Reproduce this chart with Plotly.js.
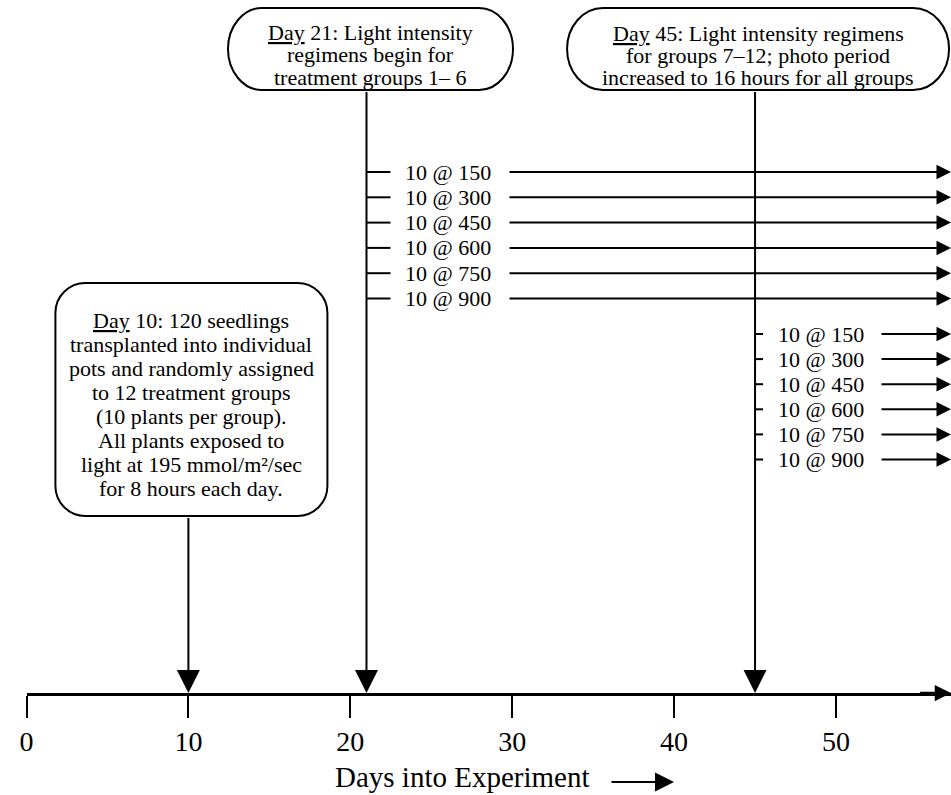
<!DOCTYPE html>
<html>
<head>
<meta charset="utf-8">
<script src="https://cdn.plot.ly/plotly-3.0.1.min.js"></script>
<style>html,body{margin:0;padding:0;background:#fff;}#chart{width:951px;height:795px;}</style>
</head>
<body>
<div id="chart"></div>
<script>
// ---------------- DATA ----------------
const eventDays = [10, 21, 45];
const eventTexts = [
  ["<u>Day</u> 10: 120 seedlings", "transplanted into individual", "pots and randomly assigned",
   "to 12 treatment groups", "(10 plants per group).", "All plants exposed to",
   "light at 195 mmol/m\u00B2/sec", "for 8 hours each day."],
  ["<u>Day</u> 21: Light intensity", "regimens begin for", "treatment groups 1\u2013 6"],
  ["<u>Day</u> 45: Light intensity regimens", "for groups 7\u201312; photo period", "increased to 16 hours for all groups"]
];
const groupStartDays = [21, 45];
const intensities = [150, 300, 450, 600, 750, 900];
const plantsPerGroup = 10;
const tickVals = [0, 10, 20, 30, 40, 50];
const tickLabels = ["0", "10", "20", "30", "40", "50"];
const axisTitle = "Days into Experiment";

// ---------------- LAYOUT HELPERS ----------------
const W = 951, H = 795;
const X0PX = 26.5, PPD = 16.19;       // pixel of day 0, pixels per day
const AXIS_Y = 693;                   // pixel row of the time axis
const xMax = (W - X0PX) / PPD;
const d = px => (px - X0PX) / PPD;    // pixel column -> day units
const pxOf = day => X0PX + day * PPD;
const py = row => (AXIS_Y - row) / AXIS_Y; // pixel row -> paper y
const FONT = "Liberation Serif, Times New Roman, serif";

// box geometry (pixels) per event
const boxGeo = [
  {dx: 3, half: 136, top: 283, bottom: 516, rx: 30, ry: 30, lineY0: 320, lineStep: 24},
  {dx: 4, half: 142.5, top: 8, bottom: 90, rx: 34, ry: 41, lineY0: 32, lineStep: 22.5},
  {dx: 3, half: 191, top: 8, bottom: 90, rx: 36, ry: 41, lineY0: 33, lineStep: 22}
];
// branch geometry per group
const branchGeo = [
  {y0: 172, step: 25.3, stub: 24, textX: 403, arrowX: 508},
  {y0: 334, step: 25.1, stub: 8, textX: 776, arrowX: 880}
];

function roundRect(x0, y0, x1, y1, rx, ry) {
  const k = 0.5523;
  const P = (px, pyy) => d(px) + "," + pyy;
  return "M" + P(x0 + rx, y0) +
    " L" + P(x1 - rx, y0) +
    " C" + P(x1 - rx + k * rx, y0) + " " + P(x1, y0 + ry - k * ry) + " " + P(x1, y0 + ry) +
    " L" + P(x1, y1 - ry) +
    " C" + P(x1, y1 - ry + k * ry) + " " + P(x1 - rx + k * rx, y1) + " " + P(x1 - rx, y1) +
    " L" + P(x0 + rx, y1) +
    " C" + P(x0 + rx - k * rx, y1) + " " + P(x0, y1 - ry + k * ry) + " " + P(x0, y1 - ry) +
    " L" + P(x0, y0 + ry) +
    " C" + P(x0, y0 + ry - k * ry) + " " + P(x0 + rx - k * rx, y0) + " " + P(x0 + rx, y0) + " Z";
}

const shapes = [];
const annotations = [];

function arrow(xTail, yTail, xTip, yTip, size, width, yref) {
  const paper = yref === "paper";
  annotations.push({
    x: xTip, y: paper ? py(yTip) : yTip, ax: xTail, ay: paper ? py(yTail) : yTail,
    xref: "x", yref: paper ? "paper" : "y", axref: "x", ayref: paper ? "paper" : "y",
    text: " ", font: {size: 1}, showarrow: true, arrowhead: 2, arrowsize: size,
    arrowwidth: width, arrowcolor: "#000", standoff: 0, startstandoff: 0
  });
}

// event boxes, texts, and vertical arrows
eventDays.forEach((day, i) => {
  const g = boxGeo[i];
  const cx = pxOf(day) + g.dx;
  shapes.push({type: "path", xref: "x", yref: "y",
    path: roundRect(cx - g.half, g.top, cx + g.half, g.bottom, g.rx, g.ry),
    line: {color: "#000", width: 2}, fillcolor: "rgba(0,0,0,0)"});
  eventTexts[i].forEach((t, j) => {
    annotations.push({x: d(cx), y: g.lineY0 + j * g.lineStep, xref: "x", yref: "y",
      text: t, showarrow: false, xanchor: "center", yanchor: "middle",
      font: {family: FONT, size: 22, color: "#000"}});
  });
  arrow(day, g.bottom, day, AXIS_Y, 2.3, 2);
});

// treatment group branches
groupStartDays.forEach((day, gi) => {
  const g = branchGeo[gi];
  intensities.forEach((v, j) => {
    const y = g.y0 + j * g.step;
    shapes.push({type: "line", xref: "x", yref: "y", x0: day, x1: d(pxOf(day) + g.stub),
      y0: y, y1: y, line: {color: "#000", width: 2}});
    annotations.push({x: d(g.textX), y: y, xref: "x", yref: "y", text: plantsPerGroup + " @ " + v,
      showarrow: false, xanchor: "left", yanchor: "middle",
      font: {family: FONT, size: 22, color: "#000"}});
    arrow(d(g.arrowX), y, xMax, y, 1.45, 2);
  });
});

// axis arrow head at right end
arrow(xMax - 2, AXIS_Y, xMax, AXIS_Y, 1.3, 2.5);

// axis title and its arrow (below the plotting area -> paper coordinates)
annotations.push({x: d(462), y: py(777), xref: "x", yref: "paper", text: axisTitle, showarrow: false,
  xanchor: "center", yanchor: "middle", font: {family: FONT, size: 29, color: "#000"}});
arrow(d(610), 782, d(674), 782, 1.9, 2, "paper");

const layout = {
  width: W, height: H,
  margin: {l: 0, r: 0, t: 0, b: H - AXIS_Y, pad: 0},
  paper_bgcolor: "#fff", plot_bgcolor: "#fff",
  showlegend: false,
  xaxis: {domain: [X0PX / W, 1], range: [0, xMax], showline: true, linecolor: "#000", linewidth: 2.5,
    ticks: "outside", ticklen: 22, tickwidth: 2, tickcolor: "#000",
    tickmode: "array", tickvals: tickVals, ticktext: tickLabels,
    tickfont: {family: FONT, size: 28, color: "#000"},
    showgrid: false, zeroline: false, fixedrange: true},
  yaxis: {domain: [0, 1], range: [AXIS_Y, 0], visible: false, showgrid: false, zeroline: false, fixedrange: true},
  shapes: shapes,
  annotations: annotations
};

Plotly.newPlot("chart", [{x: [], y: [], type: "scatter", mode: "markers", hoverinfo: "skip"}], layout,
  {staticPlot: true, displayModeBar: false});
</script>
</body>
</html>
